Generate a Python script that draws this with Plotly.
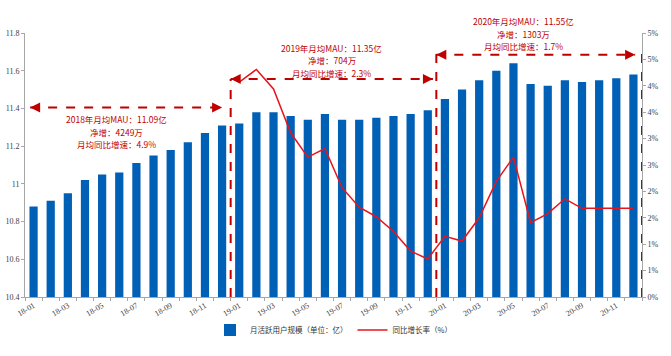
import plotly.graph_objects as go

months = ["18-01", "18-02", "18-03", "18-04", "18-05", "18-06", "18-07", "18-08", "18-09", "18-10", "18-11", "18-12",
          "19-01", "19-02", "19-03", "19-04", "19-05", "19-06", "19-07", "19-08", "19-09", "19-10", "19-11", "19-12",
          "20-01", "20-02", "20-03", "20-04", "20-05", "20-06", "20-07", "20-08", "20-09", "20-10", "20-11", "20-12"]

mau = [10.88, 10.91, 10.95, 11.02, 11.05, 11.06, 11.11, 11.15, 11.18, 11.22, 11.27, 11.31,
       11.32, 11.38, 11.38, 11.36, 11.34, 11.37, 11.34, 11.34, 11.35, 11.36, 11.37, 11.39,
       11.45, 11.50, 11.55, 11.60, 11.64, 11.53, 11.52, 11.55, 11.54, 11.55, 11.56, 11.58]

growth_months = months[12:]
growth = [4.07, 4.31, 3.94, 3.11, 2.65, 2.81, 2.07, 1.70, 1.52, 1.24, 0.87, 0.72,
          1.15, 1.06, 1.50, 2.19, 2.65, 1.41, 1.58, 1.86, 1.68, 1.68, 1.68, 1.68]

left_ticks = [10.4, 10.6, 10.8, 11.0, 11.2, 11.4, 11.6, 11.8]
left_text = ["10.4", "10.6", "10.8", "11", "11.2", "11.4", "11.6", "11.8"]
right_ticks = [0, 0.5, 1, 1.5, 2, 2.5, 3, 3.5, 4, 4.5, 5]
right_text = ["0%", "1%", "1%", "2%", "2%", "3%", "3%", "4%", "4%", "5%", "5%"]

notes = [
    ["2018年月均MAU：11.09亿", "净增：4249万", "月均同比增速：4.9%"],
    ["2019年月均MAU：11.35亿", "净增：704万", "月均同比增速：2.3%"],
    ["2020年月均MAU：11.55亿", "净增：1303万", "月均同比增速：1.7%"],
]

RED = "#C00000"
AXIS = "#A6A6A6"
TXT = "#404040"

fig = go.Figure()
fig.add_trace(go.Bar(x=months, y=mau, name="月活跃用户规模（单位：亿）",
                     marker=dict(color="#0060B6", line=dict(width=0))))
fig.add_trace(go.Scatter(x=growth_months, y=growth, yaxis="y2", mode="lines",
                         name="同比增长率（%）", line=dict(color="#E8141B", width=1.5)))

# dashed brackets
shapes = []
dash = dict(color=RED, width=2, dash="dash")
brackets = [(-0.2, 11.0, 11.405), (11.5, 23.3, 11.556), (23.5, 35.1, 11.685)]
for x0, x1, y in brackets:
    shapes.append(dict(type="line", xref="x", yref="y", x0=x0, x1=x1, y0=y, y1=y, line=dash))
for x, ytop in [(11.5, 11.556), (23.5, 11.70), (35.5, 11.70)]:
    shapes.append(dict(type="line", xref="x", yref="y", x0=x, x1=x, y0=10.4, y1=ytop, line=dash))

annotations = []
for x0, x1, y in brackets:
    annotations.append(dict(x=x0, y=y, xref="x", yref="y", ax=9, ay=0, text="", showarrow=True,
                            arrowhead=2, arrowsize=1, arrowwidth=2, arrowcolor=RED))
    annotations.append(dict(x=x1, y=y, xref="x", yref="y", ax=-9, ay=0, text="", showarrow=True,
                            arrowhead=2, arrowsize=1, arrowwidth=2, arrowcolor=RED))
for lines, x, y in zip(notes, [4.84, 17.41, 28.61], [11.277, 11.656, 11.797]):
    for k, line in enumerate(lines):
        annotations.append(dict(x=x, y=y, xref="x", yref="y", text=line, showarrow=False,
                                xanchor="center", yanchor="middle", yshift=(1 - k) * 12.4,
                                font=dict(family="Noto Sans CJK SC", size=8.5, color=RED)))

fig.update_layout(
    width=671, height=356,
    margin=dict(l=25, r=29, t=33, b=52),
    paper_bgcolor="white", plot_bgcolor="white",
    bargap=0.52,
    showlegend=True,
    legend=dict(orientation="h", x=0.5, xanchor="center", y=-0.125, yanchor="middle",
                font=dict(family="Noto Sans CJK SC", size=7.5, color="#333333"),
                itemwidth=30, tracegroupgap=0),
    xaxis=dict(type="category", range=[-0.5, 35.5], tickson="boundaries", automargin=False,
               tickvals=months, ticktext=[m if i % 2 == 0 else "" for i, m in enumerate(months)],
               tickangle=-30, ticks="outside", ticklen=3, tickcolor=AXIS,
               showline=True, linecolor=AXIS, linewidth=1, showgrid=False,
               tickfont=dict(family="Liberation Serif", size=8, color=TXT)),
    yaxis=dict(range=[10.4, 11.8], tickvals=left_ticks, ticktext=left_text, automargin=False,
               showgrid=False, zeroline=False, showline=True, linecolor=AXIS, linewidth=1,
               ticks="outside", ticklen=3, tickcolor=AXIS,
               tickfont=dict(family="Liberation Serif", size=8, color=TXT)),
    yaxis2=dict(range=[0, 5], tickvals=right_ticks, ticktext=right_text, overlaying="y", side="right",
                automargin=False,
                showgrid=False, zeroline=False, showline=True, linecolor=AXIS, linewidth=1,
                ticks="outside", ticklen=3, tickcolor=AXIS,
                tickfont=dict(family="Liberation Serif", size=8, color=TXT)),
    shapes=shapes,
    annotations=annotations,
)

fig.write_html("out.html", config={"displayModeBar": False},
               post_script="document.body.style.margin='0px';")
